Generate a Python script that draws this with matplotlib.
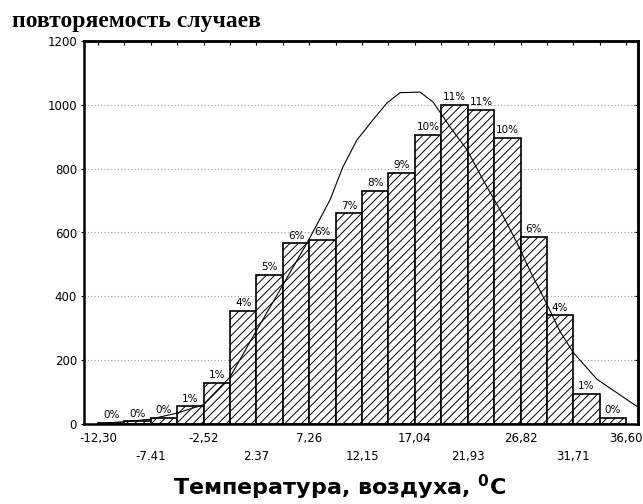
import numpy as np
import matplotlib
matplotlib.use("Agg")
import matplotlib.pyplot as plt

# --- data ---
x_start = -12.30
bin_width = 2.445
counts = [3, 8, 20, 55, 128, 355, 468, 566, 576, 660,
          730, 787, 907, 1000, 983, 896, 586, 340, 94, 19]
pct_labels = ['0%', '0%', '0%', '1%', '1%', '4%', '5%', '6%', '6%', '7%',
              '8%', '9%', '10%', '11%', '11%', '10%', '6%', '4%', '1%', '0%']
tick_vals = [-12.30, -7.41, -2.52, 2.37, 7.26, 12.15, 17.04, 21.93, 26.82, 31.71, 36.60]
tick_text = ['-12,30', '-7.41', '-2,52', '2.37', '7,26', '12,15', '17,04', '21,93', '26,82', '31,71', '36,60']

# fitted curve, points
curve_x = [-12.30, -9.89, -7.49, -4.99, -2.58, -0.08, 2.24, 4.55, 7.05, 9.18,
           10.38, 11.68, 13.16, 14.46, 15.66, 17.51, 18.72, 20.29, 21.87, 23.35,
           24.92, 26.50, 27.70, 29.27, 30.48, 31.68, 33.90, 37.61]
curve_y = [2, 7, 15, 34, 60, 147, 285, 420, 567, 702,
           806, 890, 953, 1006, 1038, 1040, 1009, 931, 859, 765,
           671, 567, 480, 375, 290, 225, 140, 55]

plt.rcParams['hatch.linewidth'] = 0.7

fig = plt.figure(figsize=(6.43, 5.04), dpi=100)
ax = fig.add_axes([84/643, 80/504, 554/643, 383/504])

edges = x_start + bin_width * np.arange(len(counts))
bars = ax.bar(edges, counts, width=bin_width, align='edge',
              color='white', edgecolor='black', linewidth=1.2, hatch='////', zorder=2)

for b, lab in zip(bars, pct_labels):
    ax.annotate(lab, (b.get_x() + b.get_width()/2, b.get_height()),
                xytext=(0, 2), textcoords='offset points',
                ha='center', va='bottom', fontsize=7.5, zorder=4)

ax.plot(curve_x, curve_y, color='black', linewidth=0.8, zorder=3)

ax.set_xlim(-13.6, 37.7)
ax.set_ylim(0, 1200)

for y in range(200, 1200, 200):
    ax.axhline(y, color='#9a9a9a', linestyle=(0, (1, 2)), linewidth=0.8, zorder=1)

ax.set_yticks(range(0, 1201, 200))
ax.tick_params(axis='y', labelsize=8.5, length=2, direction='out', pad=3)
ax.set_xticks(tick_vals)
ax.set_xticklabels([t if i % 2 == 0 else '\n' + t for i, t in enumerate(tick_text)],
                   linespacing=1.5)
ax.tick_params(axis='x', labelsize=8.5, length=0, pad=6)

# inward ticks along the top and right edges
top = ax.secondary_xaxis('top')
top.set_xticks(x_start + bin_width * np.arange(len(counts) + 1))
top.tick_params(direction='in', length=3, labeltop=False)
right = ax.secondary_yaxis('right')
right.set_yticks(range(0, 1201, 200))
right.tick_params(direction='in', length=3, labelright=False)
for s in list(ax.spines.values()) + [top.spines['top'], right.spines['right']]:
    s.set_linewidth(1.8)

fig.text(12/643, 1 - 22/504, 'повторяемость случаев', fontsize=17, fontweight='bold',
         family='Liberation Serif', ha='left', va='center')
fig.text(340/643, 1 - 487/504, r'Температура, воздуха, $\mathbf{^0}$C', fontsize=16,
         fontweight='bold', ha='center', va='center')

fig.savefig('out.png', dpi=100)
